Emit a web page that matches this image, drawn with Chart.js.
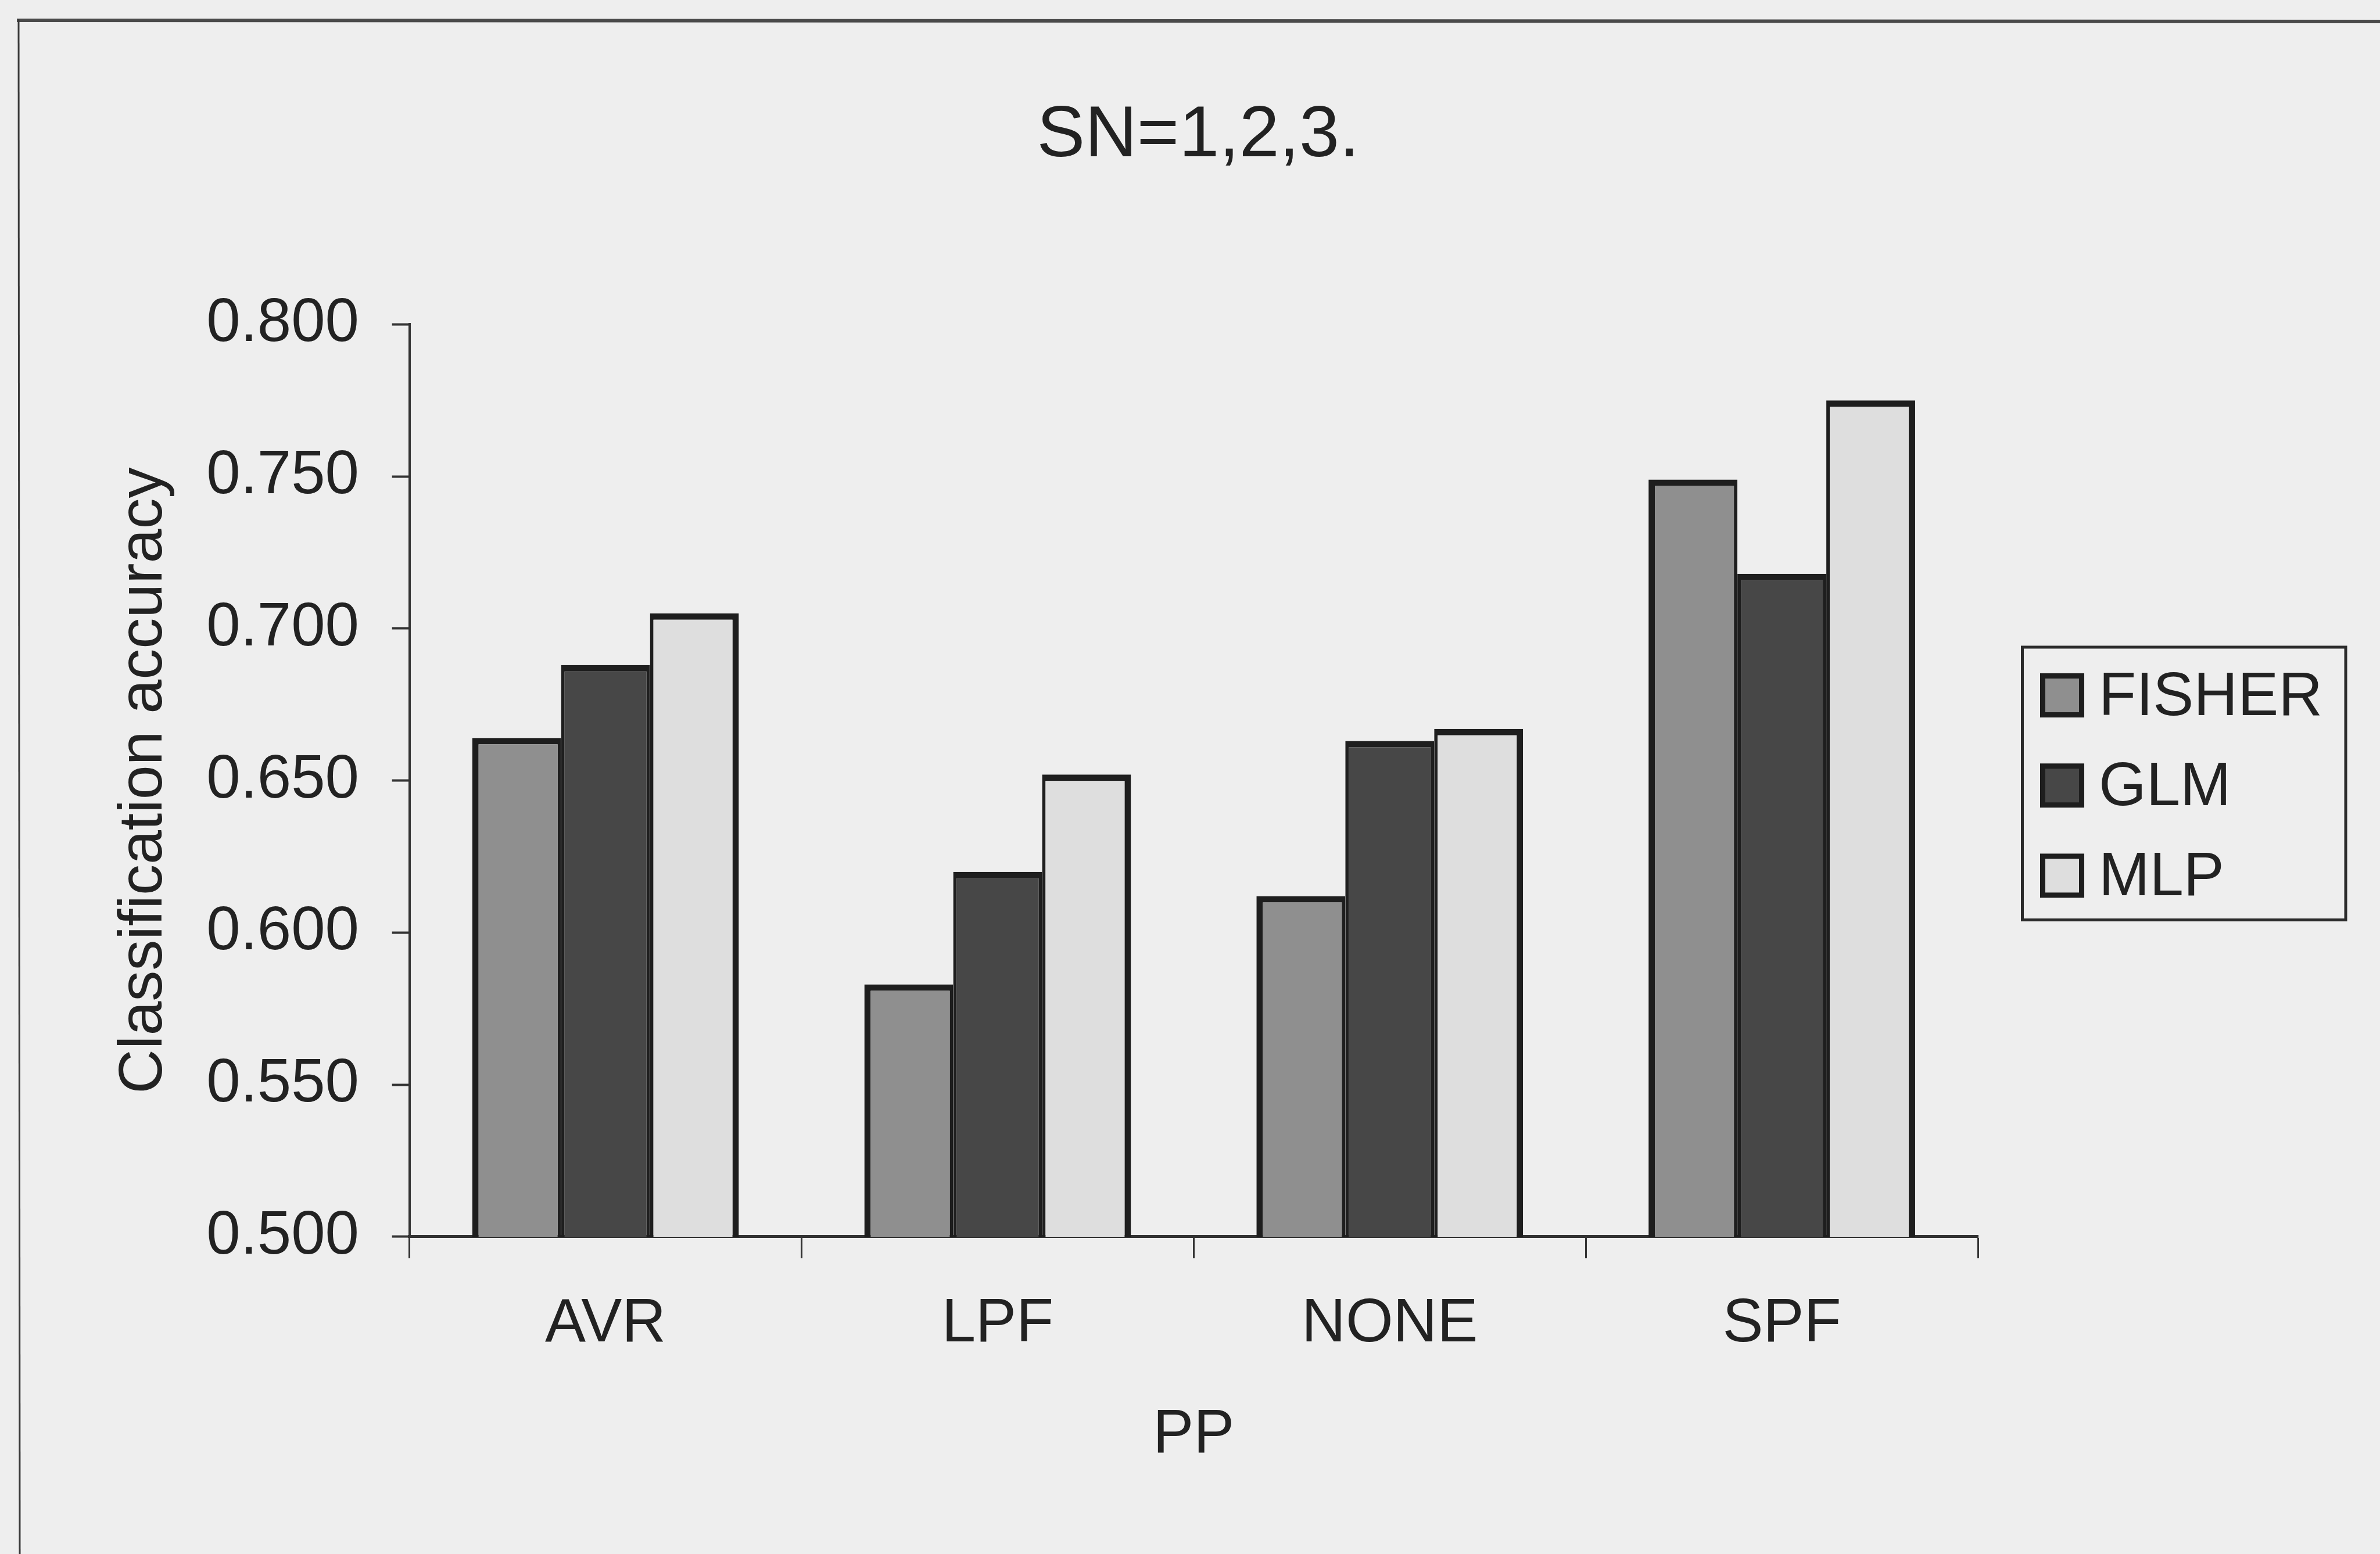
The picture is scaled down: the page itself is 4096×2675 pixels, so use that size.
<!DOCTYPE html>
<html>
<head>
<meta charset="utf-8">
<script src="https://cdn.jsdelivr.net/npm/chart.js@4/dist/chart.umd.min.js"></script>
<style>
  html, body { margin: 0; padding: 0; background: #eeeeee; }
  #wrap { width: 4096px; height: 2675px; position: relative; }
  canvas { display: block; }
</style>
</head>
<body>
<div id="wrap"><canvas id="chart" width="4096" height="2675"></canvas></div>
<script>
// ---- data ----
const categories = ['AVR', 'LPF', 'NONE', 'SPF'];
const seriesNames = ['FISHER', 'GLM', 'MLP'];
const fisherValues = [0.664, 0.583, 0.612, 0.749];
const glmValues    = [0.688, 0.620, 0.663, 0.718];
const mlpValues    = [0.705, 0.652, 0.667, 0.775];
const yTickValues  = [0.5, 0.55, 0.6, 0.65, 0.7, 0.75, 0.8];
const yTickLabels  = ['0.500', '0.550', '0.600', '0.650', '0.700', '0.750', '0.800'];
const chartTitle   = 'SN=1,2,3.';
const xAxisTitle   = 'PP';
const yAxisTitle   = 'Classification accuracy';

// ---- styling ----
const FONT = "'Liberation Sans', Arial, Helvetica, sans-serif";
const INK = '#222222';
const fills = ['#8f8f8f', '#474747', '#dedede'];
const OUTER = 11, INNER = 6;
const sideBorders = [
  { top: OUTER, left: OUTER, right: INNER, bottom: 0 },
  { top: OUTER, left: INNER, right: INNER, bottom: 0 },
  { top: OUTER, left: INNER, right: OUTER, bottom: 0 }
];

const seriesValues = [fisherValues, glmValues, mlpValues];
const datasets = seriesNames.map((name, i) => ({
  label: name,
  data: seriesValues[i],
  backgroundColor: fills[i],
  borderColor: '#1e1e1e',
  borderWidth: sideBorders[i],
  borderSkipped: 'start',
  categoryPercentage: 0.68,
  barPercentage: 1.0,
  yAxisID: 'y'
}));

// page frame: background, top rule and left rule
const framePlugin = {
  id: 'frame',
  beforeDraw(chart) {
    const { ctx, width, height } = chart;
    ctx.save();
    ctx.fillStyle = '#eeeeee';
    ctx.fillRect(0, 0, width, height);
    ctx.strokeStyle = '#4a4a4a';
    ctx.lineWidth = 6;
    ctx.beginPath();
    ctx.moveTo(29, 35);
    ctx.lineTo(width, 37);
    ctx.stroke();
    ctx.strokeStyle = '#3a3a3a';
    ctx.lineWidth = 3;
    ctx.beginPath();
    ctx.moveTo(32, 33);
    ctx.lineTo(34, height);
    ctx.stroke();
    ctx.restore();
  }
};

// boxed legend to the right of the plot
const legendBoxPlugin = {
  id: 'legendBox',
  afterDraw(chart) {
    const ctx = chart.ctx;
    const box = { x: 3480.5, y: 1114, w: 556.5, h: 469.5 };
    const sw = 76, swBorder = 9, swX = 3511, firstRow = 1197, rowStep = 155.2, textX = 3612;
    ctx.save();
    ctx.strokeStyle = '#2b2b2b';
    ctx.lineWidth = 5;
    ctx.strokeRect(box.x, box.y, box.w, box.h);
    ctx.font = '105px ' + FONT;
    ctx.textBaseline = 'alphabetic';
    ctx.textAlign = 'left';
    chart.data.datasets.forEach((ds, i) => {
      const cy = firstRow + i * rowStep;
      ctx.fillStyle = '#1e1e1e';
      ctx.fillRect(swX, cy - sw / 2, sw, sw);
      ctx.fillStyle = ds.backgroundColor;
      ctx.fillRect(swX + swBorder, cy - sw / 2 + swBorder, sw - 2 * swBorder, sw - 2 * swBorder);
      ctx.fillStyle = INK;
      ctx.fillText(ds.label, textX, cy + 33.6);
    });
    ctx.restore();
  }
};

new Chart(document.getElementById('chart'), {
  type: 'bar',
  data: { labels: categories, datasets },
  plugins: [framePlugin, legendBoxPlugin],
  options: {
    responsive: false,
    animation: false,
    devicePixelRatio: 1,
    layout: { padding: { left: 28, right: 0, top: 0, bottom: 0 } },
    plugins: {
      legend: { display: false },
      tooltip: { enabled: false },
      title: {
        display: true,
        text: chartTitle,
        color: INK,
        font: { family: FONT, size: 124, weight: 'normal' },
        padding: { top: 160.4, bottom: 249.2 }
      }
    },
    scales: {
      x: {
        type: 'category',
        offset: true,
        grid: {
          display: true,
          offset: true,
          drawOnChartArea: false,
          drawTicks: true,
          tickLength: 37,
          tickWidth: 3,
          tickColor: '#333333'
        },
        border: { display: true, color: '#333333', width: 5 },
        ticks: {
          color: INK,
          font: { family: FONT, size: 105 },
          padding: 51,
          maxRotation: 0,
          minRotation: 0
        },
        title: {
          display: true,
          text: xAxisTitle,
          color: INK,
          font: { family: FONT, size: 105 },
          padding: { top: 0, bottom: 141.4 }
        },
        afterFit(scale) { scale.height = 546.1; }
      },
      y: {
        type: 'linear',
        position: 'left',
        min: 0.5,
        max: 0.8,
        afterBuildTicks(scale) {
          scale.ticks = yTickValues.map(v => ({ value: v }));
        },
        grid: {
          display: true,
          drawOnChartArea: false,
          drawTicks: true,
          tickLength: 30,
          tickWidth: 4,
          tickColor: '#333333'
        },
        border: { display: true, color: '#333333', width: 4 },
        ticks: {
          color: INK,
          font: { family: FONT, size: 105 },
          padding: 56.7,
          callback: (value, index) => yTickLabels[index]
        },
        title: {
          display: true,
          text: yAxisTitle,
          color: INK,
          font: { family: FONT, size: 106 },
          padding: { top: 156.9, bottom: 0 }
        },
        afterFit(scale) { scale.width = 676.7; }
      },
      side: {
        type: 'linear',
        position: 'right',
        display: true,
        grid: { display: false },
        border: { display: false },
        ticks: { display: false },
        title: { display: false },
        afterFit(scale) { scale.width = 692; }
      }
    }
  }
});
</script>
</body>
</html>
